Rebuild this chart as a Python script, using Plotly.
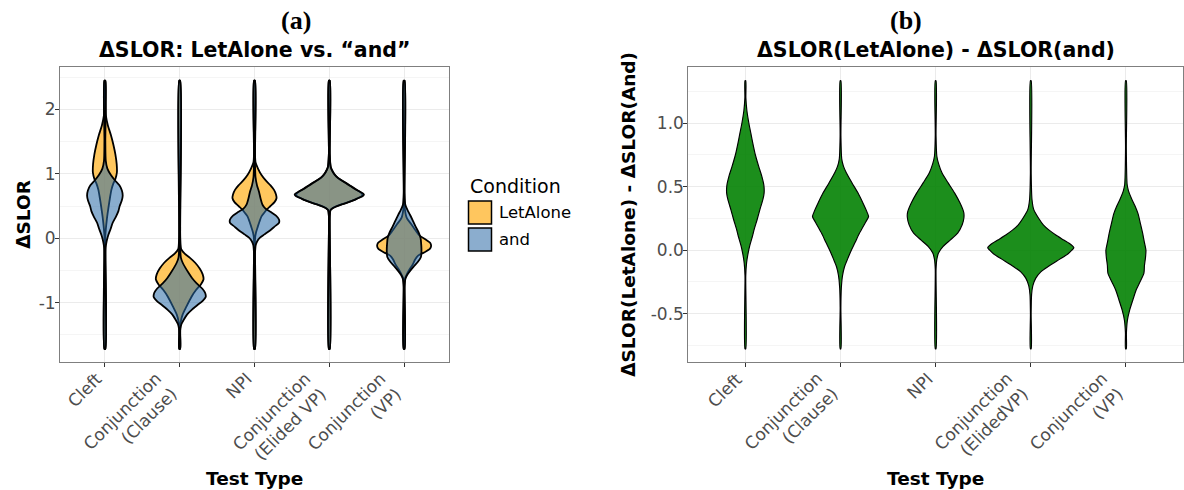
import plotly.graph_objects as go

# ---------------- DATA ----------------
labels_a = ["Cleft", "Conjunction<br>(Clause)", "NPI", "Conjunction<br>(Elided VP)", "Conjunction<br>(VP)"]
labels_b = ["Cleft", "Conjunction<br>(Clause)", "NPI", "Conjunction<br>(ElidedVP)", "Conjunction<br>(VP)"]
conditions = ["LetAlone", "and"]
yticks_a = [-1, 0, 1, 2]
yticks_b = [-0.5, 0.0, 0.5, 1.0]

# Density profiles: y levels (top -> bottom) and relative half-width
# Panel (a) -- LetAlone
cleft_let_y = [2.443, 2.1, 1.9, 1.75, 1.6, 1.45, 1.3, 1.15, 1.02, 0.92, 0.85, 0.75, 0.62, 0.5, 0.38, 0.27, 0.15, 0.03, -0.15, -1.716]
cleft_let_w = [0, 0.3, 1.0, 3.0, 6.0, 8.5, 10.5, 11.8, 12.0, 10.5, 8.5, 6.5, 5.0, 3.8, 2.7, 1.8, 1.0, 0.4, 0.15, 0]
clause_let_y = [2.443, 0.5, 0.0, -0.17, -0.24, -0.3, -0.38, -0.47, -0.56, -0.64, -0.72, -0.8, -0.91, -1.06, -1.18, -1.3, -1.42, -1.716]
clause_let_w = [0, 0.2, 0.6, 1.5, 5.0, 10.0, 15.5, 20.0, 23.0, 23.8, 21.0, 16.5, 11.7, 6.7, 3.0, 1.0, 0.3, 0]
npi_let_y = [2.443, 1.4, 1.18, 1.08, 0.98, 0.9, 0.82, 0.75, 0.68, 0.62, 0.56, 0.50, 0.45, 0.40, 0.34, 0.26, 0.18, 0.09, 0.0, -0.15, -1.716]
npi_let_w = [0, 0.3, 1.0, 3.5, 7.0, 11.0, 16.0, 19.5, 21.5, 22.0, 20.0, 16.0, 12.5, 10.0, 7.0, 5.0, 3.3, 1.5, 0.6, 0.2, 0]
elided_let_y = [2.443, 1.3, 1.1, 1.02, 0.96, 0.91, 0.86, 0.81, 0.76, 0.72, 0.685, 0.655, 0.625, 0.595, 0.56, 0.53, 0.50, 0.47, 0.44, 0.35, -1.716]
elided_let_w = [0, 0.4, 1.5, 4.0, 7.0, 11.0, 16.5, 21.5, 26.5, 30.5, 33.0, 32.5, 29.0, 25.0, 19.0, 13.0, 7.5, 3.5, 1.2, 0.3, 0]
vp_let_y = [2.443, 0.5, 0.32, 0.22, 0.12, 0.04, -0.02, -0.07, -0.12, -0.17, -0.22, -0.27, -0.33, -0.41, -0.48, -0.55, -0.61, -0.72, -1.716]
vp_let_w = [0, 0.3, 2.5, 7.0, 11.5, 15.5, 21.5, 26.0, 27.0, 25.5, 20.0, 14.0, 11.0, 8.5, 5.5, 3.0, 1.2, 0.3, 0]

# Panel (a) -- and
cleft_and_y = [2.443, 1.5, 1.2, 1.08, 0.98, 0.9, 0.82, 0.74, 0.66, 0.58, 0.5, 0.42, 0.34, 0.24, 0.14, 0.04, -0.05, -0.15, -0.35, -1.716]
cleft_and_w = [0, 0.3, 0.9, 2.5, 6.0, 10.0, 14.5, 17.0, 17.8, 16.8, 14.8, 13.5, 11.2, 7.8, 5.6, 3.2, 1.7, 0.7, 0.25, 0]
clause_and_y = [2.443, -0.1, -0.3, -0.38, -0.46, -0.54, -0.62, -0.70, -0.78, -0.85, -0.91, -0.97, -1.04, -1.11, -1.18, -1.26, -1.33, -1.40, -1.5, -1.716]
clause_and_w = [0, 0.3, 1.2, 3.0, 5.8, 9.0, 12.5, 17.0, 22.5, 25.5, 26.0, 23.0, 17.5, 12.0, 7.5, 4.2, 1.8, 0.7, 0.3, 0]
npi_and_y = [2.443, 1.2, 0.95, 0.82, 0.72, 0.62, 0.52, 0.46, 0.41, 0.35, 0.29, 0.24, 0.18, 0.12, 0.06, 0.01, -0.04, -0.1, -0.25, -1.716]
npi_and_w = [0, 0.3, 1.0, 2.5, 4.5, 6.0, 8.0, 11.0, 16.0, 21.5, 24.5, 24.5, 20.0, 15.5, 10.0, 5.5, 3.0, 1.3, 0.4, 0]
elided_and_y = [2.443, 1.3, 1.1, 1.02, 0.96, 0.91, 0.86, 0.81, 0.76, 0.72, 0.68, 0.65, 0.62, 0.59, 0.555, 0.525, 0.495, 0.465, 0.435, 0.35, -1.716]
elided_and_w = [0, 0.4, 1.4, 3.8, 6.8, 10.8, 16.0, 21.0, 26.0, 30.8, 34.6, 33.2, 28.5, 24.5, 18.5, 12.5, 7.2, 3.3, 1.2, 0.3, 0]
vp_and_y = [2.443, 0.7, 0.52, 0.44, 0.36, 0.27, 0.18, 0.09, 0.0, -0.08, -0.15, -0.22, -0.29, -0.36, -0.44, -0.51, -0.57, -0.63, -0.75, -1.716]
vp_and_w = [0, 0.3, 1.2, 3.3, 6.0, 8.8, 11.5, 14.5, 16.5, 17.0, 17.3, 17.3, 16.8, 14.0, 9.5, 5.8, 3.0, 1.3, 0.4, 0]

# Panel (b) -- difference
cleft_diff_y = [1.335, 1.2, 1.1, 1.0, 0.92, 0.84, 0.75, 0.66, 0.58, 0.51, 0.45, 0.40, 0.32, 0.24, 0.17, 0.108, 0.04, -0.02, -0.1, -0.2, -0.777]
cleft_diff_w = [0, 0.5, 1.5, 3.5, 5.5, 7.5, 10.0, 13.3, 16.5, 18.5, 18.7, 17.5, 14.5, 11.7, 9.0, 7.0, 4.5, 2.8, 1.2, 0.4, 0]
clause_diff_y = [1.335, 0.9, 0.72, 0.66, 0.61, 0.53, 0.45, 0.37, 0.30, 0.265, 0.22, 0.135, 0.06, 0.0, -0.07, -0.13, -0.2, -0.3, -0.45, -0.777]
clause_diff_w = [0, 0.4, 1.2, 3.0, 5.8, 11.5, 17.5, 22.5, 26.5, 28.0, 25.0, 19.0, 14.5, 10.8, 7.0, 4.0, 2.0, 0.8, 0.3, 0]
npi_diff_y = [1.335, 0.9, 0.74, 0.68, 0.61, 0.53, 0.45, 0.37, 0.30, 0.26, 0.20, 0.135, 0.08, 0.03, -0.02, -0.07, -0.15, -0.777]
npi_diff_w = [0, 0.4, 1.2, 3.0, 6.3, 12.5, 19.0, 24.5, 28.0, 28.3, 26.5, 22.0, 14.5, 7.5, 3.0, 1.2, 0.4, 0]
elided_diff_y = [1.335, 0.6, 0.40, 0.32, 0.25, 0.20, 0.16, 0.12, 0.08, 0.045, 0.02, 0.0, -0.03, -0.07, -0.13, -0.17, -0.22, -0.28, -0.35, -0.5, -0.777]
elided_diff_w = [0, 0.4, 1.2, 3.0, 8.0, 12.5, 18.0, 25.0, 33.0, 40.0, 43.0, 41.0, 37.0, 29.0, 17.0, 10.0, 5.0, 2.0, 0.8, 0.3, 0]
vp_diff_y = [1.335, 0.8, 0.52, 0.47, 0.40, 0.35, 0.29, 0.21, 0.135, 0.06, 0.0, -0.06, -0.12, -0.18, -0.25, -0.31, -0.39, -0.47, -0.55, -0.65, -0.777]
vp_diff_w = [0, 0.4, 1.2, 2.5, 6.0, 9.0, 12.0, 14.5, 16.7, 18.5, 20.0, 19.5, 18.5, 18.0, 14.0, 10.4, 7.0, 3.8, 1.5, 0.5, 0]

letalone_profiles = [(cleft_let_y, cleft_let_w), (clause_let_y, clause_let_w), (npi_let_y, npi_let_w),
                     (elided_let_y, elided_let_w), (vp_let_y, vp_let_w)]
and_profiles = [(cleft_and_y, cleft_and_w), (clause_and_y, clause_and_w), (npi_and_y, npi_and_w),
                (elided_and_y, elided_and_w), (vp_and_y, vp_and_w)]
diff_profiles = [(cleft_diff_y, cleft_diff_w), (clause_diff_y, clause_diff_w), (npi_diff_y, npi_diff_w),
                 (elided_diff_y, elided_diff_w), (vp_diff_y, vp_diff_w)]

# ---------------- STYLE ----------------
W, H = 1184, 490
FONT = "DejaVu Sans"
SCALE_A = 1 / 74.8   # density -> category units
SCALE_B = 1 / 95.0
TAIL_A = 0.45
TAIL_B = 0.35
ORANGE = "rgba(255,180,40,0.75)"
BLUE = "rgba(40,106,166,0.55)"
GREEN = "rgba(0,128,0,0.89)"
TICK_COL = "#4d4d4d"

def px(x):
    return x / W

def py(y):
    return 1 - y / H

def violin(center, ys, ws, scale, tail, fill, lw, xa, ya, name):
    w2 = [max(w, tail) * scale for w in ws]
    xr = [center + w for w in w2]
    xl = [center - w for w in reversed(w2)]
    xs = xr + xl + [xr[0]]
    yy = list(ys) + list(reversed(ys)) + [ys[0]]
    return go.Scatter(x=xs, y=yy, mode="lines", fill="toself", fillcolor=fill,
                      line=dict(color="black", width=lw, shape="spline", smoothing=0.7),
                      xaxis=xa, yaxis=ya, hoverinfo="skip", showlegend=False, name=name)

fig = go.Figure()
for i, (ys, ws) in enumerate(letalone_profiles):
    fig.add_trace(violin(i + 1, ys, ws, SCALE_A, TAIL_A, ORANGE, 1.8, "x", "y", conditions[0]))
for i, (ys, ws) in enumerate(and_profiles):
    fig.add_trace(violin(i + 1, ys, ws, SCALE_A, TAIL_A, BLUE, 1.8, "x", "y", conditions[1]))
for i, (ys, ws) in enumerate(diff_profiles):
    fig.add_trace(violin(i + 1, ys, ws, SCALE_B, TAIL_B, GREEN, 1.15, "x2", "y2", "diff"))

ydom = [py(362.3), py(67.3)]
common_x = dict(range=[0.4, 5.6], tickvals=[1, 2, 3, 4, 5], showticklabels=False,
                showgrid=True, gridcolor="#ebebeb", gridwidth=1.1,
                ticks="outside", ticklen=4, tickcolor="#333333",
                showline=True, linecolor="#7f7f7f", linewidth=1, mirror=True,
                zeroline=False, automargin=False, fixedrange=True)
common_y = dict(tickfont=dict(family=FONT, size=17, color=TICK_COL),
                showgrid=True, gridcolor="#ebebeb", gridwidth=1.1,
                ticks="outside", ticklen=4, tickcolor="#333333", ticklabelstandoff=-4,
                showline=True, linecolor="#7f7f7f", linewidth=1, mirror=True,
                zeroline=False, automargin=False, fixedrange=True, domain=ydom)

fig.update_layout(
    width=W, height=H, margin=dict(l=0, r=0, t=0, b=0),
    paper_bgcolor="white", plot_bgcolor="white", showlegend=False,
    xaxis=dict(common_x, domain=[px(60), px(449)], anchor="y"),
    yaxis=dict(common_y, range=[-1.924, 2.651], tickvals=yticks_a,
               ticktext=[str(v) for v in yticks_a], anchor="x",
               minor=dict(tick0=-1.5, dtick=1, showgrid=True, gridcolor="#f5f5f5", gridwidth=0.8, ticks="")),
    xaxis2=dict(common_x, domain=[px(688.3), px(1183)], anchor="y2"),
    yaxis2=dict(common_y, range=[-0.8826, 1.4406], tickvals=yticks_b,
                ticktext=["%.1f" % v for v in yticks_b], anchor="x2",
                minor=dict(tick0=-0.75, dtick=0.5, showgrid=True, gridcolor="#f5f5f5", gridwidth=0.8, ticks="")),
)

ann = []
def text(x, y, s, size, bold=True, family=FONT, color="black", angle=0, xanchor="center", yanchor="middle"):
    ann.append(dict(x=px(x), y=py(y), xref="paper", yref="paper", text=("<b>%s</b>" % s) if bold else s,
                    showarrow=False, font=dict(family=family, size=size, color=color),
                    textangle=angle, xanchor=xanchor, yanchor=yanchor))

# rotated category labels (right-aligned lines, like the reference)
for xref, labels in (("x", labels_a), ("x2", labels_b)):
    for i, lab in enumerate(labels):
        ann.append(dict(x=i + 1, y=py(367.5), xref=xref, yref="paper", text=lab, showarrow=False,
                        font=dict(family=FONT, size=17, color=TICK_COL), textangle=-45, align="right",
                        xanchor="right", yanchor="top", xshift=2.5, borderpad=0))

text(296, 21, "(a)", 26, family="Liberation Serif")
text(906, 21, "(b)", 26, family="Liberation Serif")
text(254.5, 50, "ΔSLOR: LetAlone vs. “and”", 20.5)
text(935.7, 50, "ΔSLOR(LetAlone) - ΔSLOR(and)", 20.5)
text(254.5, 478, "Test Type", 18.5)
text(935.7, 478, "Test Type", 18.5)
text(24, 214.8, "ΔSLOR", 18.5, angle=-90)
text(629, 214.8, "ΔSLOR(LetAlone) - ΔSLOR(And)", 18.5, angle=-90)

# legend
text(468, 186, "Condition", 19, bold=False, xanchor="left")
text(497, 212.5, conditions[0], 16.5, bold=False, xanchor="left")
text(497, 239.5, conditions[1], 16.5, bold=False, xanchor="left")
shapes = [
    dict(type="rect", xref="paper", yref="paper", x0=px(468.5), x1=px(491.5), y0=py(224), y1=py(201),
         fillcolor="#ffc65e", line=dict(color="black", width=1.5)),
    dict(type="rect", xref="paper", yref="paper", x0=px(468.5), x1=px(491.5), y0=py(251), y1=py(228),
         fillcolor="#8badce", line=dict(color="black", width=1.5)),
]
fig.update_layout(annotations=ann, shapes=shapes)

fig.write_html("out.html", config={"displayModeBar": False},
               post_script="document.body.style.margin='0px';document.body.style.overflow='hidden';")
